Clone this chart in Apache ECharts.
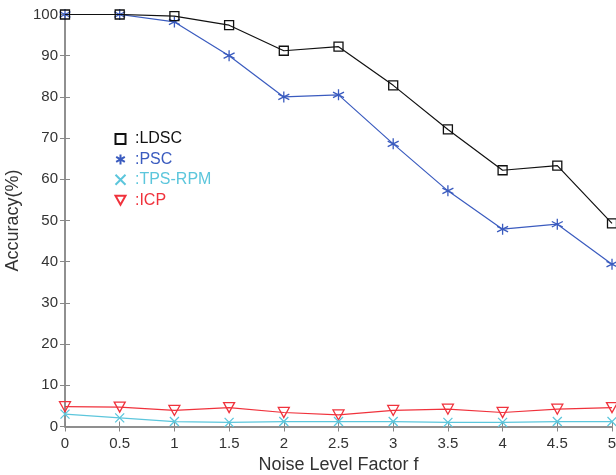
<!DOCTYPE html>
<html><head><meta charset="utf-8">
<script src="https://cdn.jsdelivr.net/npm/echarts@6/dist/echarts.min.js"></script>
<style>html,body{margin:0;padding:0;background:#fff}#c{width:616px;height:475px}</style>
</head><body><div id="c"></div>
<script>
const noise = [0, 0.5, 1, 1.5, 2, 2.5, 3, 3.5, 4, 4.5, 5];
const ldsc = [100, 100, 99.6, 97.4, 91.2, 92.2, 82.8, 72.1, 62.2, 63.3, 49.3];
const psc = [100, 100, 98.2, 90.0, 80.0, 80.5, 68.6, 57.2, 47.9, 49.1, 39.4];
const tpsrpm = [3.0, 2.1, 1.2, 1.0, 1.2, 1.2, 1.2, 1.0, 1.0, 1.2, 1.2];
const icp = [4.8, 4.7, 3.9, 4.6, 3.4, 2.8, 3.9, 4.2, 3.4, 4.2, 4.6];
const seriesNames = ['LDSC', 'PSC', 'TPS-RPM', 'ICP'];
const colors = ['#111111', '#3a5bbf', '#5cc6dc', '#f0323c'];

const pair = arr => noise.map((x, i) => [x, arr[i]]);
const symbols = [
  'rect',
  'path://M0,-1L0,1M-0.866,-0.5L0.866,0.5M-0.866,0.5L0.866,-0.5',
  'path://M-1,-1L1,1M-1,1L1,-1',
  'path://M-1,-0.9L1,-0.9L0,0.9Z'
];
const sizes = [9, 11, 9, [11, 10]];
const datas = [ldsc, psc, tpsrpm, icp];

const chart = echarts.init(document.getElementById('c'));
const axisLine = {lineStyle: {color: '#888', width: 1.5}};
const tickStyle = {inside: true, length: 5, lineStyle: {color: '#888', width: 1}};
chart.setOption({
  animation: false,
  backgroundColor: '#fff',
  grid: {left: 65, right: 4, top: 14.5, bottom: 48.5, containLabel: false, outerBoundsMode: 'none'},
  legend: {
    orient: 'vertical', left: 109.5, top: 126,
    itemWidth: 10, itemHeight: 10, itemGap: 4.4,
    textStyle: {fontFamily: 'Liberation Sans, Arial', fontSize: 16},
    formatter: ' :{name}',
    data: seriesNames.map((n, i) => ({name: n, icon: symbols[i], textStyle: {color: colors[i]}}))
  },
  xAxis: [{
    type: 'value', min: 0, max: 5, interval: 0.5,
    name: 'Noise Level Factor f', nameLocation: 'middle', nameGap: 30,
    nameTextStyle: {fontFamily: 'Liberation Sans, Arial', fontSize: 18, color: '#333'},
    axisLine: axisLine, axisTick: tickStyle, splitLine: {show: false},
    axisLabel: {fontFamily: 'Liberation Sans, Arial', fontSize: 15, color: '#333', margin: 10}
  }, {
    type: 'value', position: 'top', min: 0, max: 5, interval: 0.5,
    axisLine: axisLine, axisTick: tickStyle, axisLabel: {show: false}, splitLine: {show: false}
  }],
  yAxis: [{
    type: 'value', min: 0, max: 100, interval: 10,
    name: 'Accuracy(%)', nameLocation: 'middle', nameGap: 36,
    nameTextStyle: {fontFamily: 'Liberation Sans, Arial', fontSize: 18, color: '#333'},
    axisLine: {show: true, ...axisLine}, axisTick: tickStyle, splitLine: {show: false},
    axisLabel: {fontFamily: 'Liberation Sans, Arial', fontSize: 15, color: '#333', margin: 7}
  }, {
    type: 'value', position: 'right', min: 0, max: 100, interval: 10,
    axisLine: {show: true, ...axisLine}, axisTick: tickStyle, axisLabel: {show: false}, splitLine: {show: false}
  }],
  series: seriesNames.map((n, i) => ({
    name: n, type: 'line', data: pair(datas[i]),
    symbol: symbols[i], symbolSize: sizes[i], showAllSymbol: true,
    lineStyle: {color: colors[i], width: 1.2},
    itemStyle: {color: 'rgba(255,255,255,0)', borderColor: colors[i], borderWidth: 1.3},
    z: 10 - i
  }))
});
</script></body></html>
